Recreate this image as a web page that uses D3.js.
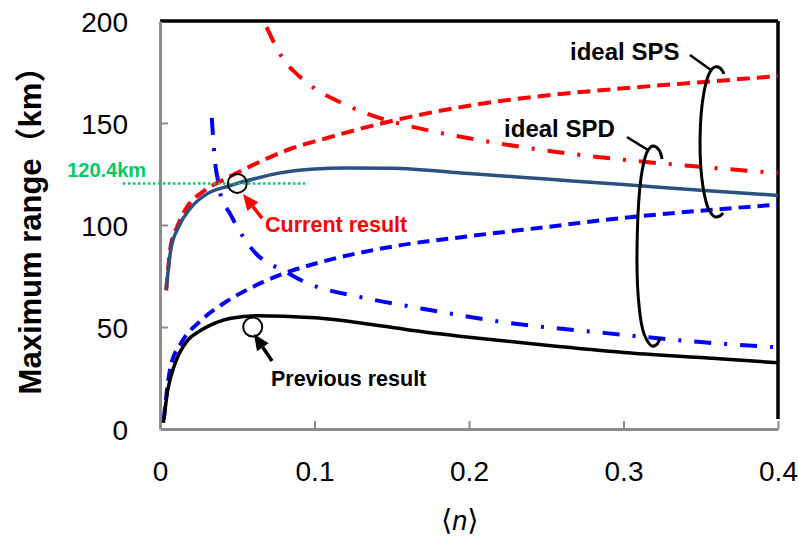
<!DOCTYPE html>
<html>
<head>
<meta charset="utf-8">
<script src="https://cdn.jsdelivr.net/npm/d3@7"></script>
<style>
  body { margin: 0; background: #fff; }
</style>
</head>
<body>
<div id="chart"></div>
<script>
// data
const xTicks = [0, 0.1, 0.2, 0.3, 0.4];
const yTicks = [0, 50, 100, 150, 200];

const currentX = [0.004, 0.007, 0.012, 0.02, 0.031, 0.044, 0.05, 0.063, 0.076, 0.1, 0.12, 0.15, 0.2, 0.25, 0.3, 0.35, 0.4];
const currentY = [68, 88, 99, 108.5, 115.5, 119, 120.4, 123, 125.3, 127.5, 128, 127.8, 125.2, 122.5, 119.8, 117, 114.5];

const spsDashX = [0.004, 0.007, 0.01, 0.016, 0.029, 0.042, 0.055, 0.072, 0.085, 0.105, 0.15, 0.2, 0.25, 0.3, 0.35, 0.4];
const spsDashY = [68, 90, 97, 107, 117, 122.5, 127.5, 133.5, 137.5, 142, 151, 158.5, 163.5, 167, 170, 173];

const spsDotX = [0.069, 0.08, 0.09, 0.1, 0.12, 0.14, 0.17, 0.2, 0.25, 0.3, 0.35, 0.4];
const spsDotY = [197, 181, 173, 167, 159, 153, 147, 142.5, 136.5, 132, 128.5, 125.5];

const spdDashX = [0.0025, 0.005, 0.007, 0.0136, 0.027, 0.042, 0.061, 0.083, 0.105, 0.155, 0.2, 0.25, 0.3, 0.35, 0.4];
const spdDashY = [5, 22, 31, 42, 53.5, 62, 70, 77, 82, 90, 94.5, 99, 103.5, 107, 110];

const spdDotX = [0.0335, 0.036, 0.0375, 0.0395, 0.045, 0.054, 0.063, 0.07, 0.079, 0.094, 0.134, 0.166, 0.226, 0.289, 0.35, 0.4];
const spdDotY = [152.5, 128.5, 122, 114, 106, 94, 85.3, 81.4, 78, 72, 64, 59.5, 52, 47, 42.6, 40];

const previousX = [0.0022, 0.005, 0.0097, 0.018, 0.0246, 0.031, 0.046, 0.063, 0.08, 0.1, 0.13, 0.16, 0.2, 0.25, 0.3, 0.35, 0.4];
const previousY = [3, 19, 32, 43.5, 47.5, 50.3, 54.3, 55.5, 55.3, 54.5, 52, 48.7, 45, 41, 37.5, 35, 32.5];

const series = [
  { xs: spsDashX, ys: spsDashY, color: "#ff0000", width: 4, dash: "13,7" },
  { xs: spsDotX, ys: spsDotY, color: "#ff0000", width: 4, dash: "17,13,3,13" },
  { xs: spdDashX, ys: spdDashY, color: "#0000ff", width: 4, dash: "12,7" },
  { xs: spdDotX, ys: spdDotY, color: "#0000ff", width: 4, dash: "17,13,3,13" },
  { xs: previousX, ys: previousY, color: "#000000", width: 3.5, dash: null },
  { xs: currentX, ys: currentY, color: "#2b5181", width: 3.5, dash: null }
];

const font = "'Liberation Sans', Arial, sans-serif";

const margin = { top: 21, right: 21, bottom: 110, left: 160 };
const width = 799 - margin.left - margin.right;
const height = 539 - margin.top - margin.bottom;

const svg = d3.select("#chart")
  .append("svg")
  .attr("width", 799)
  .attr("height", 539);

const g = svg.append("g")
  .attr("transform", `translate(${margin.left},${margin.top})`);

const x = d3.scaleLinear().domain([0, 0.4]).range([0, width]);
const y = d3.scaleLinear().domain([0, 200]).range([height, 0]);

// frame: black top/right
g.append("line")
  .attr("x1", 0).attr("x2", width).attr("y1", 0).attr("y2", 0)
  .attr("stroke", "#000").attr("stroke-width", 3.5);
g.append("line")
  .attr("x1", width).attr("x2", width).attr("y1", 0).attr("y2", height - 10)
  .attr("stroke", "#000").attr("stroke-width", 3.5);

// axes (gray, inward ticks)
const yAxis = g.append("g")
  .call(d3.axisLeft(y).tickValues(yTicks).tickSizeInner(-8).tickSizeOuter(0).tickPadding(32));
const xAxis = g.append("g")
  .attr("transform", `translate(0,${height})`)
  .call(d3.axisBottom(x).tickValues(xTicks).tickSizeInner(-8).tickSizeOuter(0).tickPadding(32)
    .tickFormat(d => d === 0 ? "0" : d3.format(".1f")(d)));

[yAxis, xAxis].forEach(ax => {
  ax.select(".domain").attr("stroke", "#8c8c8c").attr("stroke-width", 3);
  ax.selectAll(".tick line").attr("stroke", "#8c8c8c").attr("stroke-width", 2);
  ax.selectAll(".tick text")
    .style("font-family", font)
    .style("font-size", "28px")
    .attr("fill", "#000");
});
yAxis.selectAll(".tick line").filter(d => d === 0 || d === 200).remove();
xAxis.selectAll(".tick line").filter(d => d === 0).remove();
yAxis.selectAll(".tick text").attr("dy", "0.36em");

// axis titles
svg.append("text")
  .attr("transform", `translate(41,223) rotate(-90)`)
  .attr("text-anchor", "middle")
  .style("font-family", "'Liberation Sans', Arial, 'Noto Sans CJK SC', sans-serif")
  .style("font-size", "31px")
  .style("font-weight", "bold")
  .text("Maximum range（km）");

const xl = svg.append("text")
  .attr("x", margin.left + x(0.194))
  .attr("y", 530)
  .attr("text-anchor", "middle")
  .style("font-family", "'DejaVu Sans', 'Liberation Sans', sans-serif")
  .style("font-size", "29px");
xl.append("tspan").text("\u27E8");
xl.append("tspan").style("font-style", "italic").style("font-family", font).style("font-size", "27px").text("n");
xl.append("tspan").text("\u27E9");

// curves
const line = d3.line()
  .x(d => x(d[0]))
  .y(d => y(d[1]))
  .curve(d3.curveMonotoneX);

series.forEach(s => {
  const pts = s.xs.map((v, i) => [v, s.ys[i]]);
  g.append("path")
    .datum(pts)
    .attr("d", line)
    .attr("fill", "none")
    .attr("stroke", s.color)
    .attr("stroke-width", s.width)
    .attr("stroke-dasharray", s.dash);
});

// 120.4 km marker
g.append("line")
  .attr("x1", x(-0.024)).attr("x2", x(0.094))
  .attr("y1", y(120.4)).attr("y2", y(120.4))
  .attr("stroke", "#00cc66").attr("stroke-width", 2.5)
  .attr("stroke-dasharray", "2.5,2.5");
g.append("text")
  .attr("x", x(-0.009)).attr("y", y(123.5))
  .attr("text-anchor", "end")
  .style("font-family", font).style("font-size", "20px").style("font-weight", "bold")
  .attr("fill", "#00cc66")
  .text("120.4km");

// open circles
[[0.05, 120.4], [0.06, 50]].forEach(c => {
  g.append("circle")
    .attr("cx", x(c[0])).attr("cy", y(c[1])).attr("r", 9.5)
    .attr("fill", "none").attr("stroke", "#000").attr("stroke-width", 2);
});
g.select("circle:last-of-type").attr("fill", "#fff");

// arrows
function arrow(x1, y1, x2, y2, color) {
  const ax = x(x1), ay = y(y1), bx = x(x2), by = y(y2);
  const ang = Math.atan2(by - ay, bx - ax);
  const len = 16, half = 7;
  const baseX = bx - len * Math.cos(ang), baseY = by - len * Math.sin(ang);
  g.append("line")
    .attr("x1", ax).attr("y1", ay).attr("x2", baseX).attr("y2", baseY)
    .attr("stroke", color).attr("stroke-width", 3.5);
  const pts = [
    [bx, by],
    [baseX + half * Math.sin(ang), baseY - half * Math.cos(ang)],
    [baseX - half * Math.sin(ang), baseY + half * Math.cos(ang)]
  ];
  g.append("polygon").attr("points", pts.map(p => p.join(",")).join(" ")).attr("fill", color);
}
arrow(0.066, 103.4, 0.0537, 115.2, "#ff0000");
arrow(0.0725, 33.3, 0.0608, 46.6, "#000000");

g.append("text")
  .attr("x", x(0.068)).attr("y", y(96.6))
  .style("font-family", font).style("font-size", "21.5px").style("font-weight", "bold")
  .attr("fill", "#ff0000")
  .text("Current result");
g.append("text")
  .attr("x", x(0.0718)).attr("y", y(21))
  .style("font-family", font).style("font-size", "21.5px").style("font-weight", "bold")
  .attr("fill", "#000")
  .text("Previous result");

// ideal SPS / SPD loops
const loop = d3.line().curve(d3.curveCatmullRom);
function drawLoop(cxv, topv, offsets) {
  const cx = x(cxv), top = y(topv);
  g.append("path")
    .attr("d", loop(offsets.map(o => [cx + o[0], top + o[1]])))
    .attr("fill", "none").attr("stroke", "#000").attr("stroke-width", 3);
}
drawLoop(0.3573, 177.5, [[12, 7], [8, 1], [3, 0], [-2, 5], [-8, 25], [-12, 73], [-9, 120], [-3, 143], [3, 150], [8, 149], [11, 146]]);
drawLoop(0.3159, 138.7, [[14, 13], [11, 4], [5, 0], [0, 4], [-6, 25], [-11, 100], [-9, 160], [-4, 188], [4, 200], [9, 198], [12, 192]]);

function leader(x1, y1, x2, y2) {
  g.append("line")
    .attr("x1", x(x1)).attr("y1", y(y1)).attr("x2", x(x2)).attr("y2", y(y2))
    .attr("stroke", "#000").attr("stroke-width", 2.5);
}
leader(0.3430, 183.3, 0.3566, 176);
leader(0.3023, 143.1, 0.3153, 137);

g.append("text")
  .attr("x", x(0.2654)).attr("y", y(181))
  .style("font-family", font).style("font-size", "24px").style("font-weight", "bold")
  .text("ideal SPS");
g.append("text")
  .attr("x", x(0.2227)).attr("y", y(143))
  .style("font-family", font).style("font-size", "24px").style("font-weight", "bold")
  .text("ideal SPD");
</script>
</body>
</html>
